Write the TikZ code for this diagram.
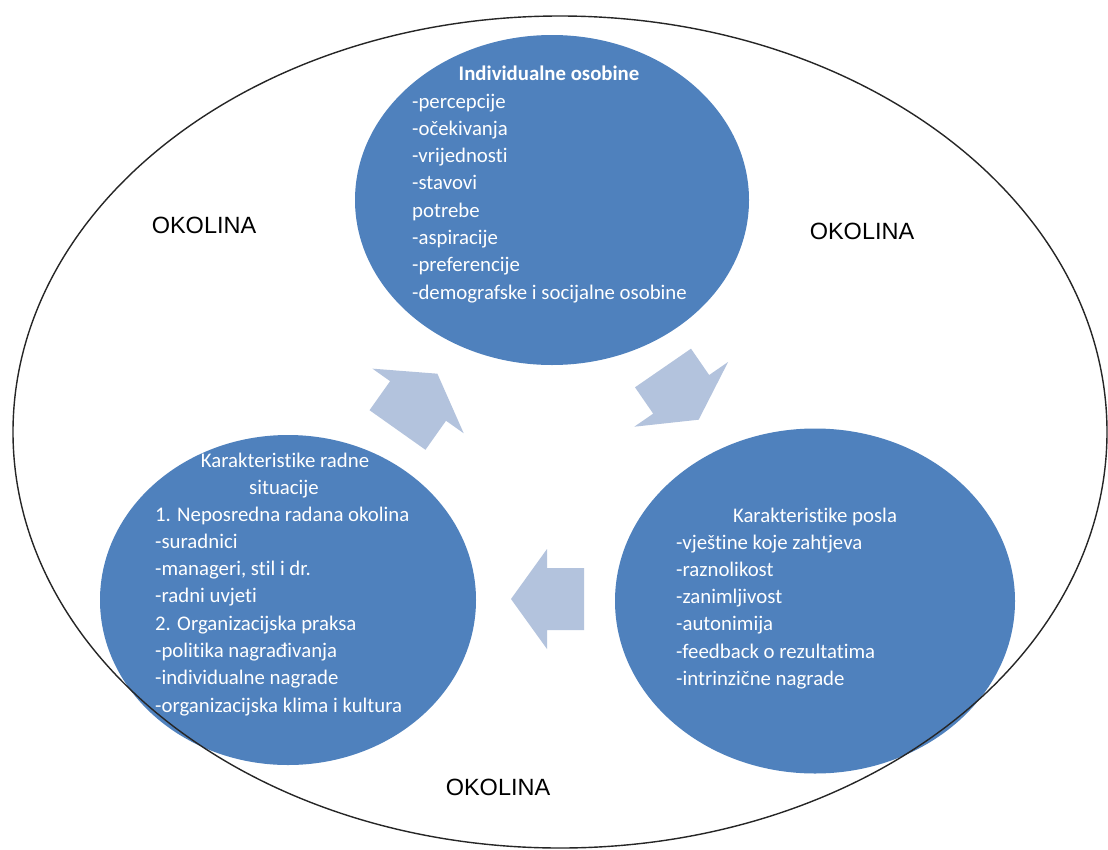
\documentclass[tikz,border=0pt]{standalone}
\usepackage{fontspec}
\setmainfont{Carlito}[Ligatures=NoCommon]
\newfontfamily\okofont{Liberation Sans}
\usetikzlibrary{shapes.geometric}

\definecolor{blobblue}{HTML}{4F81BD}
\definecolor{arrowgrey}{HTML}{B3C3DD}

\tikzset{
  blob/.style={ellipse, fill=blobblue, draw=none, inner sep=0pt},
  item/.style={anchor=base west, inner sep=0pt, text=white,
    font=\fontsize{20.8}{25}\selectfont},
  heading/.style={anchor=base, inner sep=0pt, text=white,
    font=\fontsize{20.8}{25}\selectfont},
  okolina/.style={inner sep=0pt, text=black,
    font=\okofont\fontsize{23.5}{28}\selectfont},
  arrowfill/.style={fill=arrowgrey, draw=none},
  frame/.style={line width=1.4pt, draw=black!85},
}

% block arrow: #1 tail centre, #2 direction, #3 shaft length,
% #4 head length, #5 shaft width, #6 head width
\newcommand{\flowarrow}[6]{%
  \fill[arrowfill, shift={(#1)}, rotate=#2]
    (0,{-#5/2}) -- (#3,{-#5/2}) -- (#3,{-#6/2}) -- ({#3+#4},0)
    -- (#3,{#6/2}) -- (#3,{#5/2}) -- (0,{#5/2}) -- cycle;}

\begin{document}
\begin{tikzpicture}[x=1pt,y=-1pt]
\useasboundingbox (0,0) rectangle (1108,849);
\fill[white] (0,0) rectangle (1108,849);

% the three groups of factors
\node[blob, minimum width=394pt, minimum height=330pt] (indiv) at (552,200) {};
\node[blob, minimum width=376pt, minimum height=330pt] (situ) at (288,600) {};
\node[blob, minimum width=400pt, minimum height=345pt] (posao) at (815,601) {};

% surrounding environment
\draw[frame] (560,432) ellipse [x radius=547pt, y radius=416pt];

% cycle arrows
\flowarrow{397.5,430}{54.7}{35.6}{33.4}{68.5}{111.8}
\flowarrow{663,368}{-55.4}{32}{30.8}{68}{114}
\flowarrow{584,599}{180}{37}{36}{62}{100}

% individual characteristics
\node[heading] (indiv-title) at (549,80) {\bfseries Individualne osobine};
\foreach \txt [count=\i] in {-percepcije, -očekivanja, -vrijednosti, -stavovi,
    potrebe, -aspiracije, -preferencije, -demografske i socijalne osobine}
  \node[item] (indiv-\i) at (412,{108+27.3*(\i-1)}) {\txt};

% work situation
\node[heading] (situ-title) at (285,467) {Karakteristike radne};
\node[heading] (situ-title2) at (284,494) {situacije};
\foreach \txt [count=\i] in {1. Neposredna radana okolina, -suradnici,
    {-manageri, stil i dr.}, -radni uvjeti, 2. Organizacijska praksa,
    -politika nagrađivanja, -individualne nagrade,
    -organizacijska klima i kultura}
  \node[item] (situ-\i) at (155,{521+27.3*(\i-1)}) {\txt};

% job characteristics
\node[heading] (posao-title) at (815,522) {Karakteristike posla};
\foreach \txt [count=\i] in {-vještine koje zahtjeva, -raznolikost,
    -zanimljivost, -autonimija, -feedback o rezultatima, -intrinzične nagrade}
  \node[item] (posao-\i) at (676,{549+27.3*(\i-1)}) {\txt};

% environment labels
\node[okolina] (env-left) at (204,225) {OKOLINA};
\node[okolina] (env-right) at (862,231) {OKOLINA};
\node[okolina] (env-bottom) at (498,787) {OKOLINA};
\end{tikzpicture}
\end{document}
